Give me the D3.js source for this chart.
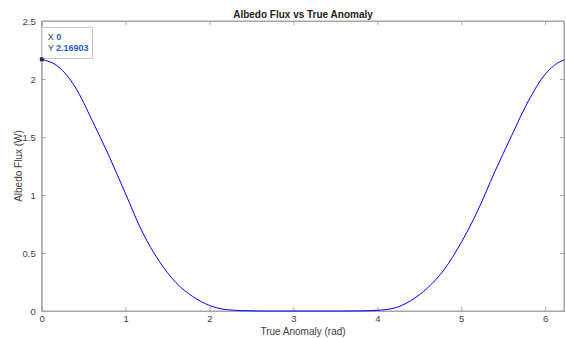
<!DOCTYPE html>
<html>
<head>
<meta charset="utf-8">
<script src="https://cdn.jsdelivr.net/npm/d3@7"></script>
<style>
  html, body { margin: 0; padding: 0; background: #fff; }
  svg { display: block; font-family: "Liberation Sans", Arial, Helvetica, sans-serif; }
</style>
</head>
<body>
<svg id="chart" width="566" height="338"></svg>
<script>
// True anomaly (rad) and albedo flux (W) samples over one orbit
const anomaly = [0, 0.2, 0.4, 0.6, 0.8, 1.0, 1.2, 1.4, 1.6, 1.8, 2.0, 2.2, 2.4, 2.6, 2.8, 3.0, 3.2, 3.4, 3.6, 3.8,
                 4.0, 4.2, 4.4, 4.6, 4.8, 5.0, 5.2, 5.4, 5.6, 5.8, 6.0, 6.2, 6.225];
const flux = [2.16903, 2.105, 1.93, 1.645, 1.34, 1.01, 0.68, 0.43, 0.245, 0.125, 0.048, 0.012, 0.003, 0, 0, 0, 0, 0, 0, 0.001,
              0.006, 0.025, 0.09, 0.20, 0.36, 0.59, 0.87, 1.20, 1.51, 1.81, 2.04, 2.157, 2.164];
const xTicks = [0, 1, 2, 3, 4, 5, 6];
const yTicks = [0, 0.5, 1, 1.5, 2, 2.5];
const tipPoint = { x: 0, y: 2.16903 };

const svg = d3.select("#chart");
const m = { left: 41.7, right: 564, top: 21, bottom: 311 };

const x = d3.scaleLinear().domain([0, 6.225]).range([m.left, m.right]);
const y = d3.scaleLinear().domain([0, 2.5]).range([m.bottom, m.top]);

const axisColor = "#a6a6a6";
const textColor = "#404040";

// box outline
svg.append("rect")
  .attr("x", m.left).attr("y", m.top)
  .attr("width", m.right - m.left).attr("height", m.bottom - m.top)
  .attr("fill", "#fff").attr("stroke", axisColor).attr("stroke-width", 1);

function styleAxis(g) {
  g.select(".domain").attr("stroke", axisColor);
  g.selectAll(".tick line").attr("stroke", axisColor);
  g.selectAll(".tick text").attr("fill", textColor).attr("font-size", "9.5px");
}

// bottom / left axes with labels, top / right with ticks only
svg.append("g").attr("transform", `translate(0,${m.bottom})`)
  .call(d3.axisBottom(x).tickValues(xTicks).tickSize(-4).tickPadding(4).tickFormat(d3.format("d")))
  .call(styleAxis);
svg.append("g").attr("transform", `translate(0,${m.top})`)
  .call(d3.axisTop(x).tickValues(xTicks).tickSize(-4).tickFormat(""))
  .call(styleAxis);
svg.append("g").attr("transform", `translate(${m.left},0)`)
  .call(d3.axisLeft(y).tickValues(yTicks).tickSize(-4).tickPadding(6).tickFormat(d => d3.format("")(d)))
  .call(styleAxis);
svg.append("g").attr("transform", `translate(${m.right},0)`)
  .call(d3.axisRight(y).tickValues(yTicks).tickSize(-4).tickFormat(""))
  .call(styleAxis);

// curve
const pts = anomaly.map((a, i) => [a, flux[i]]);
svg.append("path")
  .datum(pts)
  .attr("fill", "none")
  .attr("stroke", "#0000ff")
  .attr("stroke-width", 1)
  .attr("d", d3.line().x(d => x(d[0])).y(d => y(d[1])).curve(d3.curveMonotoneX));

// titles
svg.append("text")
  .attr("x", 303).attr("y", 18)
  .attr("text-anchor", "middle")
  .attr("font-size", "10px").attr("font-weight", "bold").attr("fill", "#222")
  .text("Albedo Flux vs True Anomaly");
svg.append("text")
  .attr("x", 303).attr("y", 334.5)
  .attr("text-anchor", "middle")
  .attr("font-size", "10px").attr("fill", textColor)
  .text("True Anomaly (rad)");
svg.append("text")
  .attr("transform", `translate(21.5,166) rotate(-90)`)
  .attr("text-anchor", "middle")
  .attr("font-size", "10px").attr("fill", textColor)
  .text("Albedo Flux (W)");

// data tip
const tx = x(tipPoint.x), ty = y(tipPoint.y);
svg.append("rect")
  .attr("x", tx + 0.3).attr("y", 27.5)
  .attr("width", 50.5).attr("height", 31)
  .attr("fill", "#fff").attr("stroke", "#c8c8c8").attr("stroke-width", 1);
const tip = svg.append("g").attr("font-size", "9px");
const row1 = tip.append("text").attr("x", tx + 6).attr("y", 39.5);
row1.append("tspan").attr("fill", "#404040").text("X ");
row1.append("tspan").attr("fill", "#1f5fbf").attr("font-weight", "bold").text(tipPoint.x);
const row2 = tip.append("text").attr("x", tx + 6).attr("y", 51);
row2.append("tspan").attr("fill", "#404040").text("Y ");
row2.append("tspan").attr("fill", "#1f5fbf").attr("font-weight", "bold").text(d3.format(".6")(tipPoint.y));
svg.append("rect")
  .attr("x", tx - 1.6).attr("y", ty - 1.6)
  .attr("width", 3.2).attr("height", 3.2)
  .attr("fill", "#333").attr("stroke", "#000").attr("stroke-width", 0.5);
</script>
</body>
</html>
